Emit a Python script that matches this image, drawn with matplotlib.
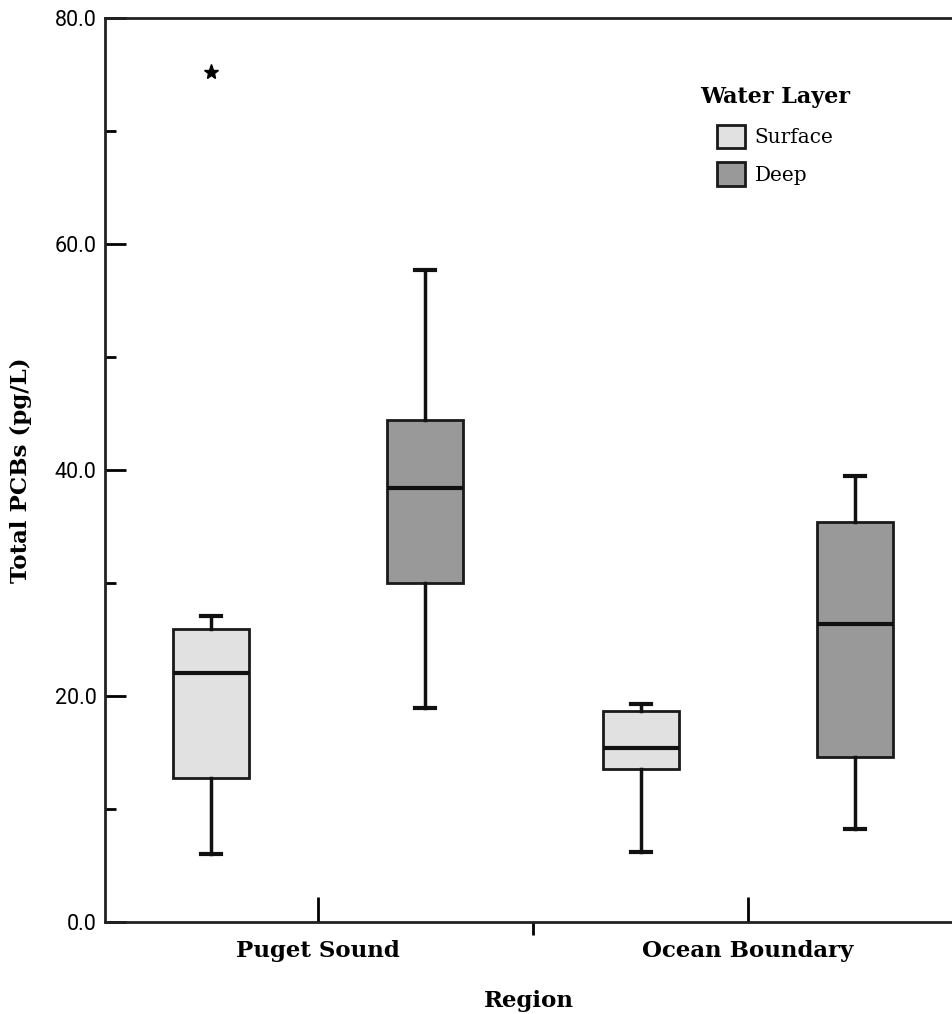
import matplotlib.pyplot as plt
from matplotlib.patches import Patch

# data
regions = ["Puget Sound", "Ocean Boundary"]
layers = ["Surface", "Deep"]
layer_colors = ["#e1e1e1", "#999999"]
# order: Puget surface, Puget deep, Ocean surface, Ocean deep
wlo = [6.0, 18.9, 6.2, 8.2]
q1 = [12.7, 30.0, 13.5, 14.6]
med = [22.0, 38.4, 15.4, 26.4]
q3 = [25.9, 44.4, 18.7, 35.4]
whi = [27.1, 57.7, 19.3, 39.5]
outliers = [[75.2], [], [], []]

fig = plt.figure(figsize=(9.52, 10.14), dpi=100)
ax = fig.add_axes([105 / 952, 1 - 922 / 1014, 1 - 105 / 952, (922 - 18) / 1014])

stats = []
pos = []
for i in range(4):
    stats.append(dict(whislo=wlo[i], q1=q1[i], med=med[i], q3=q3[i], whishi=whi[i], fliers=outliers[i]))
    pos.append(i // 2 + (-0.249 if i % 2 == 0 else 0.249))

bp = ax.bxp(stats, positions=pos, widths=0.177, capwidths=0.046, patch_artist=True,
            boxprops=dict(edgecolor="#1a1a1a", linewidth=2),
            medianprops=dict(color="#111111", linewidth=3),
            whiskerprops=dict(color="#111111", linewidth=2.5),
            capprops=dict(color="#111111", linewidth=3),
            flierprops=dict(marker="*", markersize=11, markerfacecolor="black", markeredgecolor="black"))
for i, b in enumerate(bp["boxes"]):
    b.set_facecolor(layer_colors[i % 2])

ax.set_xlim(-0.495, 1.475)
ax.set_ylim(0, 80)
ax.set_yticks([0, 20, 40, 60, 80])
ax.set_yticklabels(["0.0", "20.0", "40.0", "60.0", "80.0"], family=["Roboto", "DejaVu Sans"], fontsize=15.5)
ax.set_yticks([10, 30, 50, 70], minor=True)
ax.set_xticks([0, 1])
ax.set_xticklabels(regions, family="DejaVu Serif", fontweight="bold", fontsize=16.5)
ax.set_xticks([0.5], minor=True)

ax.tick_params(axis="y", which="major", direction="in", length=15, width=2, pad=6)
ax.tick_params(axis="y", which="minor", direction="in", length=8, width=2)
ax.tick_params(axis="x", which="major", direction="in", length=18, width=2, pad=13)
ax.tick_params(axis="x", which="minor", direction="out", length=9, width=2)

for s in ["left", "bottom", "top"]:
    ax.spines[s].set_linewidth(2)
    ax.spines[s].set_color("#222222")
ax.spines["right"].set_visible(False)

ax.set_ylabel("Total PCBs (pg/L)", family="DejaVu Serif", fontweight="bold", fontsize=16.5, labelpad=16)
ax.set_xlabel("Region", family="DejaVu Serif", fontweight="bold", fontsize=16.5, labelpad=20)

handles = [Patch(facecolor=layer_colors[k], edgecolor="#1a1a1a", linewidth=2, label=layers[k]) for k in range(2)]
leg = ax.legend(handles=handles, title="Water Layer", loc="upper center",
                bbox_to_anchor=(775 / 952, 1 - 76 / 1014), bbox_transform=fig.transFigure,
                frameon=False, borderpad=0, prop=dict(family="DejaVu Serif", size=14.4),
                title_fontproperties=dict(family="DejaVu Serif", weight="bold", size=16),
                handlelength=1.4, handleheight=1.45, handletextpad=0.5, labelspacing=0.7)
leg._legend_box.sep = 12

fig.savefig("out.png", dpi=100)
